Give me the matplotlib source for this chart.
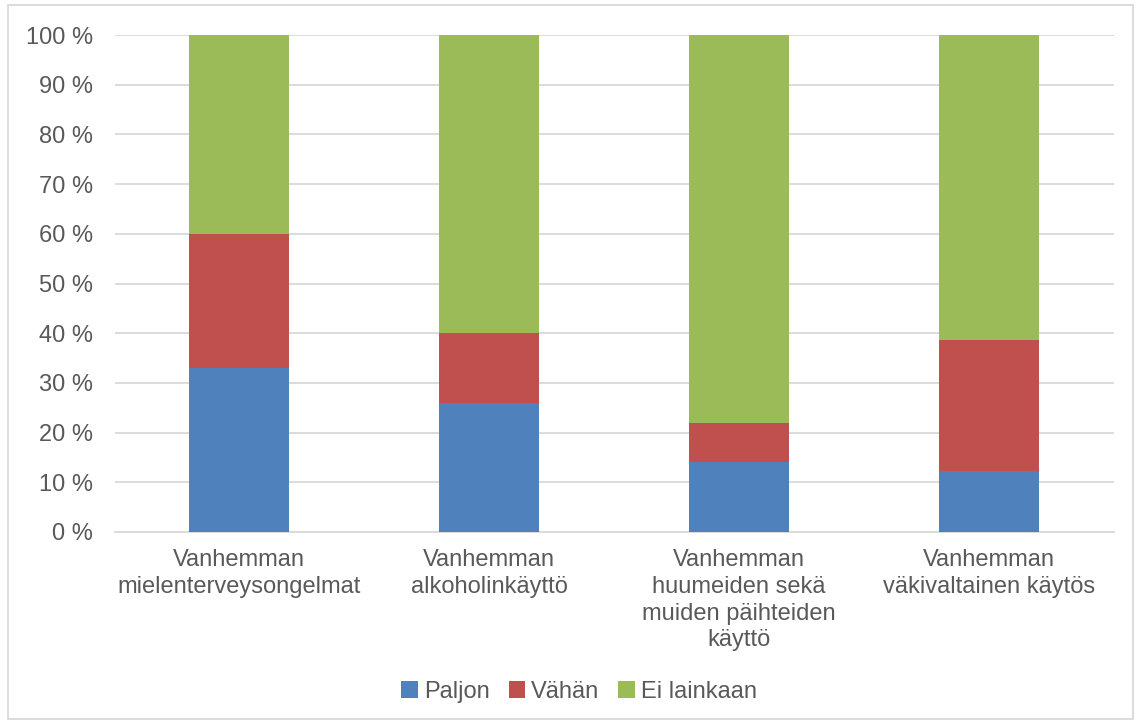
import matplotlib
matplotlib.use("Agg")
import matplotlib.pyplot as plt
from matplotlib.patches import Rectangle

categories = ["Vanhemman\nmielenterveysongelmat", "Vanhemman\nalkoholinkäyttö",
              "Vanhemman\nhuumeiden sekä\nmuiden päihteiden\nkäyttö", "Vanhemman\nväkivaltainen käytös"]
paljon = [33, 26, 14, 12.3]
vahan = [27, 14, 8, 26.3]
ei_lainkaan = [40, 60, 78, 61.4]
series_names = ["Paljon", "Vähän", "Ei lainkaan"]
colors = ["#4f81bd", "#c0504d", "#9bbb59"]
yticks = list(range(0, 101, 10))

plt.rcParams['font.family'] = ['Liberation Sans', 'DejaVu Sans']
txt = "#595959"
fs = 17

fig = plt.figure(figsize=(11.41, 7.27), dpi=100)
ax = fig.add_axes([114.5/1141, 1 - 532/727, 999/1141, 497/727])

x = range(len(categories))
bottom = [0]*len(categories)
for vals, name, c in zip([paljon, vahan, ei_lainkaan], series_names, colors):
    ax.bar(x, vals, width=0.4, bottom=bottom, color=c, label=name, zorder=3)
    bottom = [b + v for b, v in zip(bottom, vals)]

ax.set_xlim(-0.5, len(categories) - 0.5)
ax.set_ylim(0, 100)
ax.set_yticks(yticks)
ax.set_yticklabels([f"{t} %" for t in yticks], fontsize=fs, color=txt)
ax.set_xticks(list(x))
ax.set_xticklabels(categories, fontsize=fs, color=txt, linespacing=1.29)
ax.tick_params(axis='both', length=0)
ax.tick_params(axis='y', pad=15.5)
ax.tick_params(axis='x', pad=12)
ax.grid(axis='y', color="#d9d9d9", linewidth=1.3, zorder=0)
for s in ['top', 'right', 'left']:
    ax.spines[s].set_visible(False)
ax.spines['bottom'].set_color("#d9d9d9")
ax.spines['bottom'].set_linewidth(1.3)

leg = fig.legend(loc='center', bbox_to_anchor=(579/1141, 1 - 692/727), ncol=3, frameon=False,
                 fontsize=fs, handlelength=0.7, handleheight=0.7, handletextpad=0.25, columnspacing=0.8)
for t in leg.get_texts():
    t.set_color(txt)

fig.patches.append(Rectangle((8/1141, 1 - 719/727), 1125/1141, 714/727, transform=fig.transFigure,
                             fill=False, edgecolor="#d9d9d9", linewidth=1.3))

fig.savefig("out.png", dpi=100, facecolor="white")
